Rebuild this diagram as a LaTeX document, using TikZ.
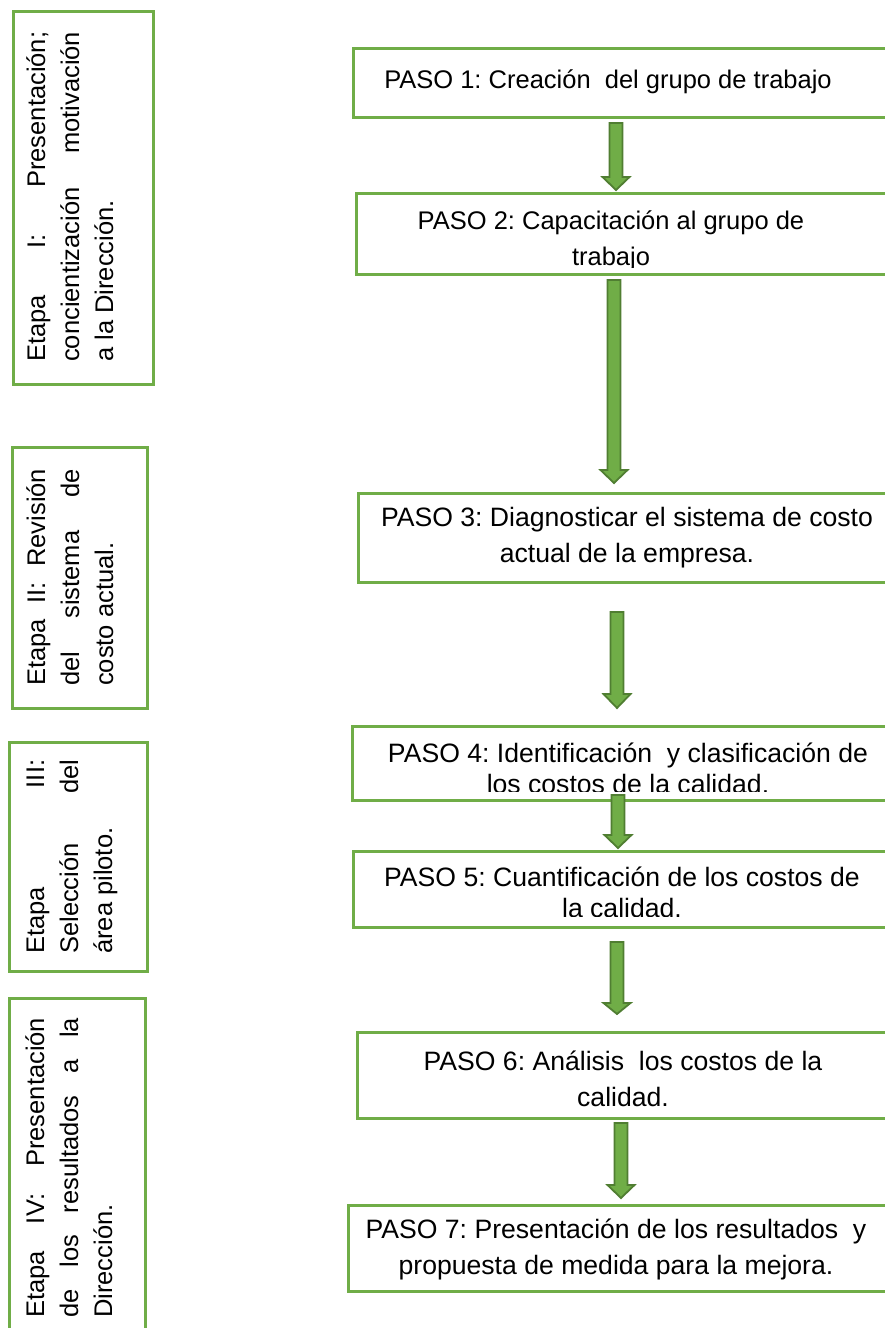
\documentclass[tikz,border=0pt]{standalone}
\usepackage{fontspec}
\setmainfont{Liberation Sans}
\frenchspacing
\definecolor{boxgreen}{HTML}{70AD47}
\definecolor{arrowdark}{HTML}{507E32}
\newcommand\pasotext[2][25.5]{\parbox[t]{600pt}{\centering\fontsize{#1}{36}\selectfont #2}}
\newcommand\etapatext[4]{\parbox[t]{#1}{\fontsize{25.5}{34}\selectfont\setlength\baselineskip{34pt}%
  \makebox[#1][s]{#2}\par\makebox[#1][s]{#3}\par\makebox[#1][l]{#4}}}
\begin{document}
\begin{tikzpicture}[x=1pt,y=-1pt,
  boxline/.style={draw=boxgreen,line width=2.6pt,inner sep=0pt,anchor=north west},
  blockarrow/.style={fill=boxgreen,draw=arrowdark,line width=1.8pt,line join=miter},
  ptxt/.style={inner sep=0pt,anchor=base},
  etxt/.style={inner sep=0pt,anchor=base west,rotate=90}]
\useasboundingbox (0,0) rectangle (885,1328);
\clip (0,0) rectangle (885,1328);
\fill[white] (0,0) rectangle (885,1328);
\newcommand\barrow[5]{%
  \coordinate (#1) at (#2,#3);
  \draw[blockarrow] ({#2-6.5},#3) -- ({#2+6.5},#3) -- ({#2+6.5},#4) -- ({#2+13.5},#4)
     -- (#2,#5) -- ({#2-13.5},#4) -- ({#2-6.5},#4) -- cycle;}
% ---------- left boxes (Etapas) ----------
\node[boxline,minimum width=140pt,minimum height=373pt] (e1) at (12,10) {};
\node[etxt] (e1t) at (45,362) {\etapatext{330pt}{Etapa I: Presentación;}{concientización motivación}{a la Dirección.}};
\node[boxline,minimum width=135pt,minimum height=261pt] (e2) at (11,446) {};
\node[etxt] (e2t) at (45,686) {\etapatext{217pt}{Etapa II: Revisión}{del sistema de}{costo actual.}};
\node[boxline,minimum width=138pt,minimum height=229pt] (e3) at (8,741) {};
\node[etxt] (e3t) at (44,954) {\etapatext{194pt}{Etapa III:}{Selección del}{área piloto.}};
\node[boxline,minimum width=136pt,minimum height=343pt] (e4) at (8,997) {};
\node[etxt] (e4t) at (44,1318) {\etapatext{300pt}{Etapa IV: Presentación}{de los resultados a la}{Dirección.}};
% ---------- right boxes (Pasos) ----------
\begin{scope}\clip (352,47) rectangle (895,110);
\node[ptxt] (p1t) at (608,88) {\pasotext{PASO 1: Creación\ \ del grupo de trabajo}};
\end{scope}
\node[boxline,minimum width=543pt,minimum height=69pt] (p1) at (352,47) {};
\begin{scope}\clip (355,192) rectangle (895,267);
\node[ptxt] (p2t) at (611,229) {\pasotext{PASO 2: Capacitación al grupo de\\trabajo}};
\end{scope}
\node[boxline,minimum width=540pt,minimum height=81pt] (p2) at (355,192) {};
\begin{scope}\clip (357,492) rectangle (895,575);
\node[ptxt] (p3t) at (627,526) {\pasotext[26.6]{PASO 3: Diagnosticar el sistema de costo\\actual de la empresa.}};
\end{scope}
\node[boxline,minimum width=538pt,minimum height=89pt] (p3) at (357,492) {};
\begin{scope}\clip (351,725) rectangle (895,791);
\node[ptxt] (p4t) at (628,762) {\pasotext[26.6]{PASO 4: Identificación\ \ y clasificación de\\[-5pt]los costos de la calidad.}};
\end{scope}
\node[boxline,minimum width=544pt,minimum height=74pt] (p4) at (351,725) {};
\begin{scope}\clip (352,850) rectangle (895,916);
\node[ptxt] (p5t) at (622,886) {\pasotext[26.6]{PASO 5: Cuantificación de los costos de\\[-5pt]la calidad.}};
\end{scope}
\node[boxline,minimum width=543pt,minimum height=76pt] (p5) at (352,850) {};
\begin{scope}\clip (356,1031) rectangle (895,1111);
\node[ptxt] (p6t) at (623,1070) {\pasotext[26.6]{PASO 6: Análisis\ \ los costos de la\\calidad.}};
\end{scope}
\node[boxline,minimum width=539pt,minimum height=86pt] (p6) at (356,1031) {};
\begin{scope}\clip (347,1204) rectangle (895,1284);
\node[ptxt] (p7t) at (616,1238) {\pasotext[26.6]{PASO 7: Presentación de los resultados\ \ y\\propuesta de medida para la mejora.}};
\end{scope}
\node[boxline,minimum width=548pt,minimum height=86pt] (p7) at (347,1204) {};
% ---------- block arrows ----------
\barrow{a1}{616}{123}{177}{190}
\barrow{a2}{614}{280}{470}{483}
\barrow{a3}{617}{612}{694}{708}
\barrow{a4}{618}{795}{835}{848}
\barrow{a5}{617}{942}{1003}{1014}
\barrow{a6}{621}{1123}{1185}{1198}
\end{tikzpicture}
\end{document}
